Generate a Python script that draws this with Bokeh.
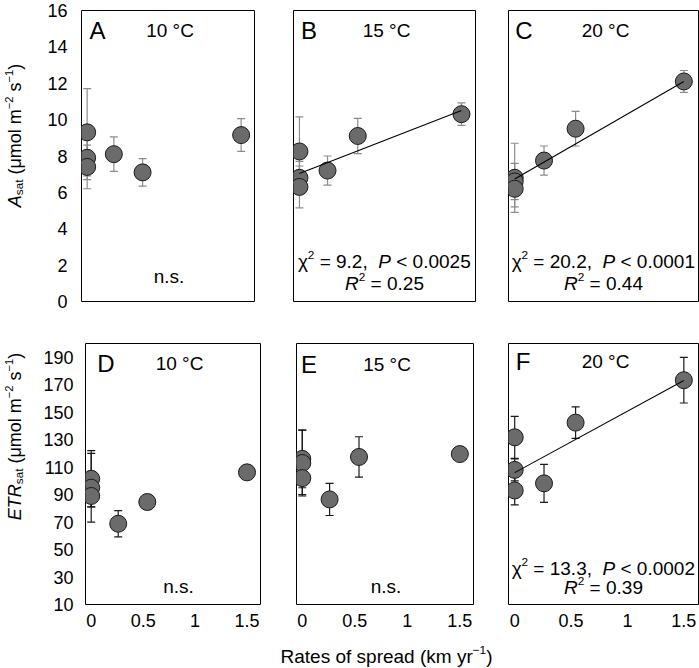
import math
from bokeh.plotting import figure
from bokeh.layouts import column, row
from bokeh.models import (ColumnDataSource, Range1d, Label, Whisker, TeeHead,
                          FixedTicker)
from bokeh.embed import file_html
from bokeh.resources import INLINE

# ---------------- data ----------------
spread = [0, 0, 0, 0.26, 0.54, 1.5]          # rate of spread (km yr-1)

asat_10 = [9.3, 7.9, 7.4, 8.1, 7.1, 9.15]
asat_10_err = [2.4, 1.2, 1.2, 0.95, 0.76, 0.9]
asat_15 = [8.25, 6.8, 6.3, 7.2, 9.1, 10.3]
asat_15_err = [1.9, 0.9, 1.15, 0.8, 0.97, 0.62]
asat_20 = [6.8, 6.6, 6.2, 7.75, 9.5, 12.1]
asat_20_err = [1.9, 1.0, 1.0, 0.8, 0.95, 0.6]

etr_10 = [101.5, 95, 89, 68.8, 84.6, 106.2]
etr_10_err = [20.5, 25, 8, 9.5, 5.3, 3]
etr_15 = [116, 113, 102, 86.5, 117.4, 119.5]
etr_15_err = [21, 24, 12, 11.7, 14.7, 3]
etr_20 = [131.7, 108, 93, 98.2, 142.4, 173.3]
etr_20_err = [15.3, 8, 10.5, 13.8, 11.5, 16.6]

# fitted regression lines: values read at x = 0 and x = 1.5
fit_x = [0, 1.5]
fit_asat_15 = [7.04, 10.5]
fit_asat_20 = [6.74, 12.1]
fit_etr_20 = [106, 173]

panel_letters = ["A", "B", "C", "D", "E", "F"]
temperatures = ["10 °C", "15 °C", "20 °C", "10 °C", "15 °C", "20 °C"]
stats_chi = [None, "9.2", "20.2", None, None, "13.3"]
stats_p = [None, "0.0025", "0.0001", None, None, "0.0002"]
stats_r2 = [None, "0.25", "0.44", None, None, "0.39"]

x_ticks = [0, 0.5, 1, 1.5]
x_tick_labels = ["0", "0.5", "1", "1.5"]
asat_ticks = [0, 2, 4, 6, 8, 10, 12, 14, 16]
etr_ticks = [10, 30, 50, 70, 90, 110, 130, 150, 170, 190]

# ---------------- styling helpers ----------------
FONT = "Liberation Sans"
FILL = "#6b6b6b"

W = {' ': 278, '(': 333, ')': 333, ',': 278, '.': 278, '=': 584, '<': 584,
     '−': 584, '°': 400, 'A': 667, 'B': 667, 'C': 722, 'D': 722, 'E': 667,
     'F': 611, 'P': 667, 'R': 722, 'T': 611, 'a': 556, 'd': 556, 'e': 556,
     'f': 278, 'k': 500, 'l': 222, 'm': 833, 'n': 556, 'o': 556, 'p': 556,
     'r': 333, 's': 500, 't': 278, 'y': 500, 'μ': 576, 'χ': 500}
for d in "0123456789":
    W[d] = 556


def tw(s, size):
    return sum(W.get(c, 556) for c in s) * size / 1000.0


SCALE = {'n': 1.0, 'i': 1.0, 'sup': 0.62, 'sub': 0.65}
SHIFT = {'n': 0.0, 'i': 0.0, 'sup': 0.32, 'sub': -0.22}   # centre shift (x size)


def label(p, text, x, y, size, angle=0.0, italic=False, y_units="screen"):
    p.add_layout(Label(x=x, y=y, x_units="screen", y_units=y_units, text=text,
                       text_font=FONT, text_font_size=f"{size:.1f}px",
                       text_font_style="italic" if italic else "normal",
                       angle=angle, text_align="center", text_baseline="middle",
                       text_color="black"))


def rich(p, pieces, x, y, size, angle=0.0, y_scale=None):
    """Pieces centred (as a whole) on (x, y); y given in screen px from frame
    bottom; if y_scale=(ymin, px_per_unit) the y position is converted to data."""
    widths = [tw(t, size * SCALE[k]) for t, k in pieces]
    total = sum(widths)
    adv = -total / 2.0
    ca, sa = math.cos(angle), math.sin(angle)
    for (t, k), w in zip(pieces, widths):
        s = size * SCALE[k]
        lead = len(t) - len(t.lstrip(' '))
        txt = t.strip(' ')
        mid = adv + tw(' ' * lead, s) + tw(txt, s) / 2.0
        dy = SHIFT[k] * size
        px = x + mid * ca - dy * sa
        py = y + mid * sa + dy * ca
        if txt:
            if y_scale is not None:
                label(p, txt, px, y_scale[0] + py / y_scale[1], s, angle,
                      italic=(k == 'i'), y_units="data")
            else:
                label(p, txt, px, py, s, angle, italic=(k == 'i'))
        adv += w


def strip(width, height):
    s = figure(width=width, height=height, output_backend="svg",
               toolbar_location=None, x_range=Range1d(0, 1), y_range=Range1d(0, 1),
               x_axis_location=None, y_axis_location=None, min_border=0)
    s.grid.visible = False
    s.outline_line_color = None
    s.border_fill_color = "white"
    return s


# per-panel text placement (pixels inside the frame)
letter_cx = [16, 15.5, 15.5, 20.5, 12.5, 14.5]
head_cy = [20, 20, 20, 19.5, 21.5, 19]          # below frame top
ns_cy = [24.7, None, None, 17.7, 19.2, None]     # above frame bottom
stat_cy = [None, (40, 18.5), (40, 18.5), None, None, (38, 18)]


def make_panel(idx, yvals, yerr, yrange, width, height, bl, br, bt, bb,
               show_y, show_x, yticks, err_color, fit=None):
    kw = dict(width=width, height=height, output_backend="svg",
              toolbar_location=None, x_range=Range1d(-0.055, 1.63),
              y_range=Range1d(*yrange), min_border_left=bl,
              min_border_right=br, min_border_top=bt, min_border_bottom=bb)
    if not show_y:
        kw["y_axis_location"] = None
    if not show_x:
        kw["x_axis_location"] = None
    p = figure(**kw)
    p.grid.visible = False
    p.outline_line_color = "black"
    p.outline_line_width = 1
    p.background_fill_color = "white"
    p.border_fill_color = "white"
    for ax in p.axis:
        ax.axis_line_color = None
        ax.major_tick_line_color = None
        ax.minor_tick_line_color = None
        ax.major_tick_in = 0
        ax.major_tick_out = 0
        ax.minor_tick_in = 0
        ax.minor_tick_out = 0
        ax.major_label_text_font = FONT
        ax.major_label_text_font_size = "18px"
        ax.major_label_text_color = "black"
    if show_y:
        p.yaxis.ticker = FixedTicker(ticks=yticks)
        p.yaxis.major_label_standoff = 14 if yrange[1] < 100 else 12
    if show_x:
        p.xaxis.ticker = FixedTicker(ticks=x_ticks)
        p.xaxis.major_label_overrides = {t: l for t, l in zip(x_ticks, x_tick_labels)}
        p.xaxis.major_label_standoff = 9

    src = ColumnDataSource(dict(
        x=spread, y=yvals,
        upper=[v + e for v, e in zip(yvals, yerr)],
        lower=[v - e for v, e in zip(yvals, yerr)]))
    p.add_layout(Whisker(source=src, base="x", upper="upper", lower="lower",
                         line_color=err_color, line_width=1.2,
                         upper_head=TeeHead(size=8, line_color=err_color, line_width=1.2),
                         lower_head=TeeHead(size=8, line_color=err_color, line_width=1.2)))
    p.scatter("x", "y", source=src, size=17, fill_color=FILL,
              line_color="#1a1a1a", line_width=1)
    if fit is not None:
        p.line(fit_x, fit, line_color="black", line_width=1.1)

    fw = width - bl - br
    fh = height - bt - bb
    ys = (yrange[0], fh / (yrange[1] - yrange[0]))   # px -> data conversion
    to_data = lambda px_from_bottom: yrange[0] + px_from_bottom / ys[1]

    label(p, panel_letters[idx], letter_cx[idx], to_data(fh - head_cy[idx]), 24,
          y_units="data")
    label(p, temperatures[idx], fw / 2 + 2, to_data(fh - head_cy[idx]), 19,
          y_units="data")
    if stats_chi[idx] is None:
        label(p, "n.s.", fw / 2 + 1, to_data(ns_cy[idx]), 19, y_units="data")
    else:
        y1, y2 = stat_cy[idx]
        rich(p, [("χ", 'n'), ("2", 'sup'), (" = " + stats_chi[idx] + ",  ", 'n'),
                 ("P", 'i'), (" < " + stats_p[idx], 'n')], fw / 2, y1, 19, y_scale=ys)
        rich(p, [("R", 'i'), ("2", 'sup'), (" = " + stats_r2[idx], 'n')],
             fw / 2, y2, 19, y_scale=ys)
    return p


GREY_ERR = "#8c8c8c"
DARK_ERR = "#1a1a1a"
YS = 40   # width of the y-title strip

TOP_H = 318
BOT_H = 322

pA = make_panel(0, asat_10, asat_10_err, (0, 16), 274 - YS, TOP_H, 81 - YS, 20, 10, 17,
                True, False, asat_ticks, GREY_ERR)
pB = make_panel(1, asat_15, asat_15_err, (0, 16), 217, TOP_H, 19, 16, 10, 17,
                False, False, asat_ticks, GREY_ERR, fit_asat_15)
pC = make_panel(2, asat_20, asat_20_err, (0, 16), 208, TOP_H, 17, 1, 10, 17,
                False, False, asat_ticks, GREY_ERR, fit_asat_20)

pD = make_panel(3, etr_10, etr_10_err, (10, 200), 280 - YS, BOT_H, 76 - YS, 20, 25, 36,
                True, True, etr_ticks, DARK_ERR)
pE = make_panel(4, etr_15, etr_15_err, (10, 200), 211, BOT_H, 16, 18, 16, 35,
                False, True, etr_ticks, DARK_ERR)
pF = make_panel(5, etr_20, etr_20_err, (10, 200), 208, BOT_H, 17, 1, 13, 36,
                False, True, etr_ticks, DARK_ERR, fit_etr_20)

# y-axis titles (rotated, composed of styled pieces) in narrow strips
HALF_PI = math.pi / 2
sA = strip(YS, TOP_H)
rich(sA, [("A", 'i'), ("sat", 'sub'), (" (μmol m", 'n'), ("−2", 'sup'),
          (" s", 'n'), ("−1", 'sup'), (")", 'n')],
     14.5, TOP_H - 152, 18, angle=HALF_PI)
sD = strip(YS, BOT_H)
rich(sD, [("ETR", 'i'), ("sat", 'sub'), (" (μmol m", 'n'), ("−2", 'sup'),
          (" s", 'n'), ("−1", 'sup'), (")", 'n')],
     14.5, BOT_H - (472 - TOP_H), 18, angle=HALF_PI)

# x-axis title in its own strip
TH = 668 - TOP_H - BOT_H
pT = strip(699, TH)
rich(pT, [("Rates of spread (km yr", 'n'), ("−1", 'sup'), (")", 'n')],
     386, 668 - 655.5 - 0, 19)

layout = column(row(sA, pA, pB, pC), row(sD, pD, pE, pF), pT)
layout.spacing = 0

open("out.html", "w").write(file_html(layout, INLINE))
